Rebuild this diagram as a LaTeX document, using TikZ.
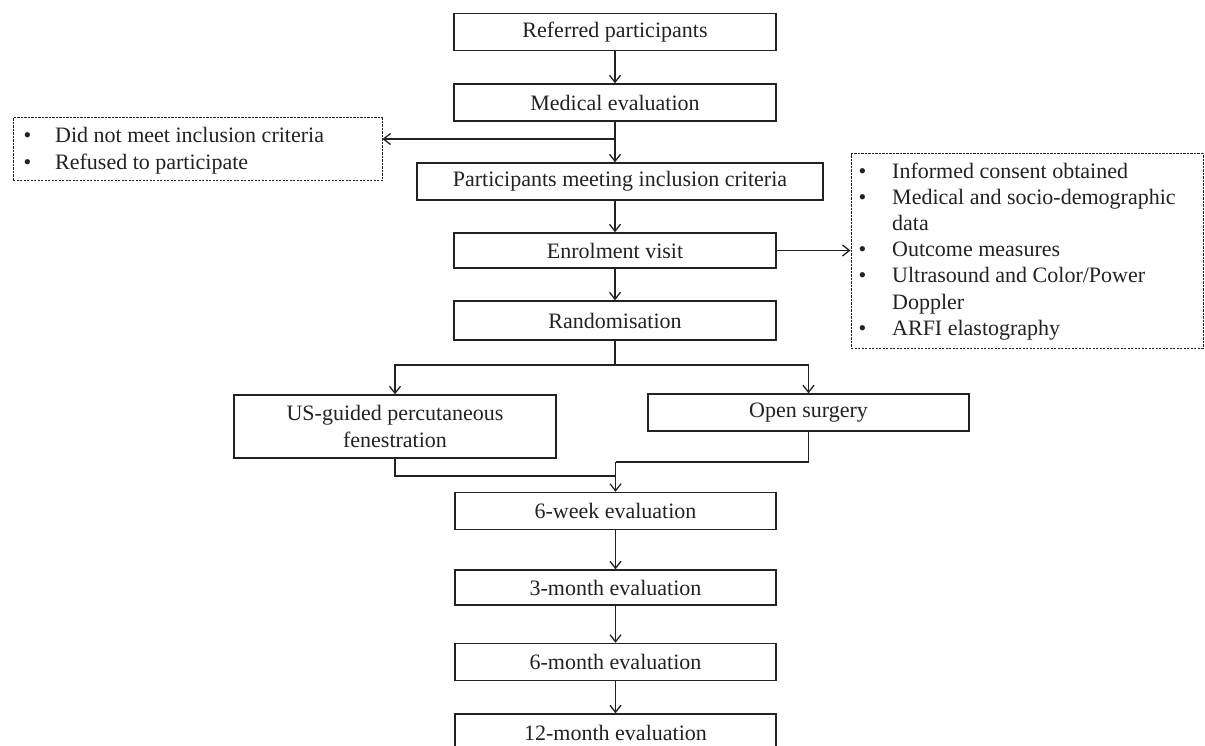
\documentclass[tikz,border=0pt]{standalone}
\usepackage{fontspec}
\setmainfont{Liberation Serif}
\usetikzlibrary{arrows.meta}
\definecolor{ink}{HTML}{222222}
\newcommand\diagfont{\fontsize{22}{27}\selectfont}
\begin{document}
\begin{tikzpicture}[x=1pt,y=-1pt,
  box/.style={draw=ink, line width=1.4pt, rectangle, minimum width=322pt, minimum height=37pt, inner sep=0pt, align=center, font=\diagfont, text=ink},
  dbox/.style={draw=ink, line width=1pt, dash pattern=on 2.2pt off 1.3pt, rectangle, inner sep=0pt},
  item/.style={anchor=base west, inner sep=0pt, font=\diagfont, text=ink},
  conn/.style={draw=ink, line width=1.3pt},
  arr/.style={conn, -{Straight Barb[length=7pt,width=11pt]}},
]
\useasboundingbox (0,0) rectangle (1205,746);
\fill[white] (0,0) rectangle (1205,746);
\clip (0,0) rectangle (1205,746);

% main column
\node[box] (ref) at (615,32) {Referred participants};
\node[box] (med) at (615,102.5) {Medical evaluation};
\node[box, minimum width=406pt] (part) at (620,181.5) {Participants meeting inclusion criteria};
\node[box, minimum height=35pt] (enrol) at (615,250.5) {Enrolment visit};
\node[box, minimum height=39pt] (rand) at (615,320.5) {Randomisation};
\node[box, minimum height=63pt] (us) at (395,426.5) {US-guided percutaneous\\fenestration};
\node[box, minimum width=321pt] (open) at (808.5,412.5) {Open surgery};
\node[box, minimum width=321pt] (w6) at (615.5,511) {6-week evaluation};
\node[box, minimum width=321pt, minimum height=35pt] (m3) at (615.5,587.5) {3-month evaluation};
\node[box, minimum width=321pt] (m6) at (615.5,662) {6-month evaluation};
\node[box, minimum width=321pt, minimum height=38pt] (m12) at (615.5,733) {12-month evaluation};

% dashed side boxes
\node[dbox, minimum width=369pt, minimum height=63pt] (excl) at (197.5,149.5) {};
\node[dbox, minimum width=352pt, minimum height=194pt] (info) at (1027,251) {};

\node[item] (e1) at (23.5,143) {\makebox[31.5pt][l]{\textbullet}Did not meet inclusion criteria};
\node[item] (e2) at (23.5,170) {\makebox[31.5pt][l]{\textbullet}Refused to participate};

\node[item] (i1) at (858.5,179) {\makebox[33.5pt][l]{\textbullet}Informed consent obtained};
\node[item] (i2) at (858.5,205) {\makebox[33.5pt][l]{\textbullet}Medical and socio-demographic};
\node[item] (i2b) at (892,231) {data};
\node[item] (i3) at (858.5,257) {\makebox[33.5pt][l]{\textbullet}Outcome measures};
\node[item] (i4) at (858.5,283) {\makebox[33.5pt][l]{\textbullet}Ultrasound and Color/Power};
\node[item] (i4b) at (892,309) {Doppler};
\node[item] (i5) at (858.5,335) {\makebox[33.5pt][l]{\textbullet}ARFI elastography};

% connectors
\coordinate (j1) at (615,139);
\coordinate (split) at (615,365);
\coordinate (merge) at (615.5,462);
\coordinate (usj) at (615.5,476);

\draw[arr] (ref.south) -- (med.north);
\draw[arr] (med.south) -- (med.south |- part.north);
\draw[arr] (j1) -- (j1 -| excl.east);
\draw[arr] (enrol.north |- part.south) -- (enrol.north);
\draw[arr] (enrol.east) -- (enrol.east -| info.west);
\draw[arr] (enrol.south) -- (rand.north);
\draw[conn] (rand.south) -- (split);
\draw[arr] (split) -| (us.north);
\draw[arr] (split) -| (open.north);
\draw[conn] (us.south) |- (usj);
\draw[conn] (open.south) |- (merge);
\draw[arr] (merge) -- (w6.north);
\draw[arr] (w6.south) -- (m3.north);
\draw[arr] (m3.south) -- (m6.north);
\draw[arr] (m6.south) -- (m12.north);
\end{tikzpicture}
\end{document}
